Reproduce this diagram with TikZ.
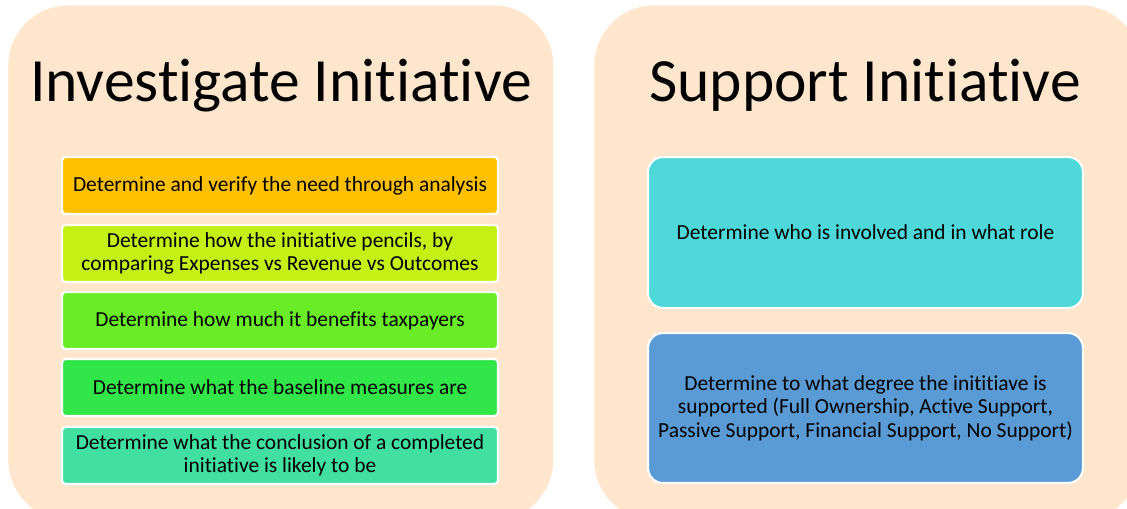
\documentclass[tikz,border=0pt]{standalone}
\usepackage{fontspec}
\setmainfont{Carlito}[Ligatures=NoCommon]
\usepackage{tikz}
\usetikzlibrary{
    positioning,
    calc
}
\usepackage{xcolor}
\definecolor{panelpeach}{RGB}{255,230,204}
\definecolor{stepgold}{RGB}{255,192,0}
\definecolor{steplime}{RGB}{196,240,20}
\definecolor{stepgreen}{RGB}{106,236,38}
\definecolor{stepmid}{RGB}{50,230,74}
\definecolor{stepteal}{RGB}{66,224,160}
\definecolor{stepcyan}{RGB}{78,216,218}
\definecolor{stepblue}{RGB}{91,155,213}

\begin{document}
\begin{tikzpicture}[
    x=0.02cm, y=-0.02cm,
    panel/.style={rectangle, rounded corners=1.2cm, fill=panelpeach, anchor=north west, inner sep=0pt},
    heading/.style={font=\fontsize{35}{42}\selectfont, anchor=base},
    stepbox/.style={rectangle, rounded corners=2pt, draw=white, line width=1.2pt, minimum width=8.72cm, minimum height=1.14cm, font=\fontsize{12.2}{13.4}\selectfont, align=center, inner sep=1pt},
    bigbox/.style={rectangle, rounded corners=0.3cm, draw=white, line width=1.2pt, minimum width=8.7cm, minimum height=3.0cm, font=\fontsize{12.2}{13.4}\selectfont, align=center}
]
\clip (0,0) rectangle (1127,508);

% === INVESTIGATE (left) ===
\node[panel, minimum width=10.9cm, minimum height=10.3cm] (invpanel) at (8,5) {};
\node[heading] (invtitle) at (281,101) {Investigate Initiative};

\node[stepbox, fill=stepgold] (need) at (280,185.5) {Determine and verify the need through analysis};
\node[stepbox, fill=steplime] (pencil) at (280,253.5) {Determine how the initiative pencils, by\\comparing Expenses vs Revenue vs Outcomes};
\node[stepbox, fill=stepgreen] (benefit) at (280,320.5) {Determine how much it benefits taxpayers};
\node[stepbox, fill=stepmid] (baseline) at (280,387.5) {Determine what the baseline measures are};
\node[stepbox, fill=stepteal] (outcome) at (280,455.5) {Determine what the conclusion of a completed\\initiative is likely to be};

% === SUPPORT (right) ===
\node[panel, minimum width=10.92cm, minimum height=10.3cm] (suppanel) at (594,5) {};
\node[heading] (suptitle) at (865,101) {Support Initiative};

\node[bigbox, fill=stepcyan, minimum height=3.02cm] (who) at (865.5,232.5) {Determine who is involved and in what role};
\node[bigbox, fill=stepblue] (degree) at (865.5,408) {Determine to what degree the inititiave is\\supported (Full Ownership, Active Support,\\Passive Support, Financial Support, No Support)};

\end{tikzpicture}
\end{document}
